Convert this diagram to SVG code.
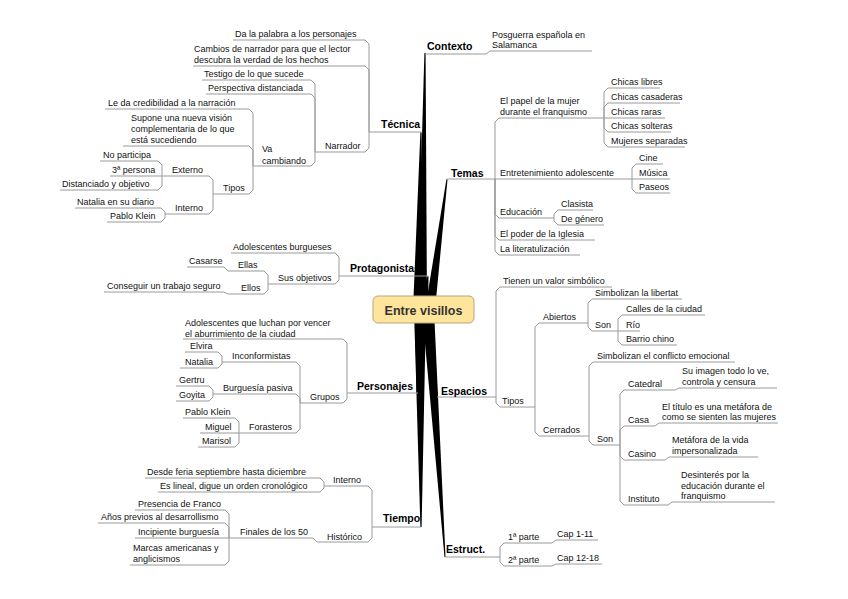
<svg xmlns="http://www.w3.org/2000/svg" width="848" height="599" viewBox="0 0 848 599">
<style>
.t{font-family:"Liberation Sans",Arial,sans-serif;font-size:9px;fill:#111}
.m{font-family:"Liberation Sans",Arial,sans-serif;font-size:10.5px;font-weight:bold;fill:#000}
.c{stroke:#9a9a9a;stroke-width:1;fill:none}
.s{fill:#000}
</style>
<rect width="848" height="599" fill="#fff"/>
<g id="connectors">
<g id="spikes">
<path class="s" d="M417,310 L424.4,53 L425.6,53 L427,310Z"/>
<path class="s" d="M413,310 L420.4,132 L421.6,132.5 L423,310Z"/>
<path class="s" d="M425,310 L446.5,179 L447.5,179.5 L435,310Z"/>
<path class="s" d="M418,310 L427.5,276 L428.5,276.5 L428,310Z"/>
<path class="s" d="M415,310 L416.5,393 L417.5,393 L425,310Z"/>
<path class="s" d="M423,310 L436.5,397 L437.5,397 L433,310Z"/>
<path class="s" d="M414,310 L420.4,527 L421.6,527 L426,310Z"/>
<path class="s" d="M422,310 L444.5,557 L445.5,557 L434,310Z"/>
</g>
<!-- Contexto -->
<path class="c" d="M425,54 H486 L490,51 H592"/>
<!-- Temas -->
<path class="c" d="M447,179 H495"/>
<path class="c" d="M495,179 V122 L499,118 H604"/>
<path class="c" d="M604,118 V92 L608,88 H660"/>
<path class="c" d="M604,118 V107 L608,103 H680"/>
<path class="c" d="M604,118 H665"/>
<path class="c" d="M604,118 V128 L608,132 H671"/>
<path class="c" d="M604,118 V143 L608,147 H685"/>
<path class="c" d="M495,179 H632"/>
<path class="c" d="M632,179 V168 L636,164 H663"/>
<path class="c" d="M632,179 H670"/>
<path class="c" d="M632,179 V189 L636,193 H670"/>
<path class="c" d="M495,179 V214 L499,218 H554"/>
<path class="c" d="M554,218 V214 L558,210 H593"/>
<path class="c" d="M554,218 V221 L558,225 H604"/>
<path class="c" d="M495,179 V236 L499,240 H595"/>
<path class="c" d="M495,179 V251 L499,255 H580"/>
<!-- Espacios -->
<path class="c" d="M437,397 H496"/>
<path class="c" d="M496,397 V291 L500,287 H612"/>
<path class="c" d="M496,397 V403 L500,407 H535"/>
<path class="c" d="M535,407 V327 L539,323 H588"/>
<path class="c" d="M588,323 V303 L592,299 H682"/>
<path class="c" d="M588,323 V327 L592,331 H618"/>
<path class="c" d="M618,331 V319 L622,315 H705"/>
<path class="c" d="M618,331 H640"/>
<path class="c" d="M618,331 V341 L622,345 H677"/>
<path class="c" d="M535,407 V432 L539,436 H589"/>
<path class="c" d="M589,436 V366 L593,362 H735"/>
<path class="c" d="M589,436 V441 L593,445 H620"/>
<path class="c" d="M620,445 V394 L624,390 H675 L679,388 H777"/>
<path class="c" d="M620,445 V430 L624,426 H655 L659,423 H778"/>
<path class="c" d="M620,445 V456 L624,460 H665 L669,457 H758"/>
<path class="c" d="M620,445 V501 L624,505 H668 L672,502 H775"/>
<!-- Estruct -->
<path class="c" d="M445,557 H500"/>
<path class="c" d="M500,557 V547 L504,543 H552 L556,540 H598"/>
<path class="c" d="M500,557 V562 L504,566 H552 L556,564 H602"/>
<!-- Tecnica -->
<path class="c" d="M421,132 H369"/>
<path class="c" d="M369,132 V44 L365,40 H233"/>
<path class="c" d="M369,132 V70 L365,66 H193"/>
<path class="c" d="M369,132 V148 L365,152 H315"/>
<path class="c" d="M315,152 V84 L311,80 H202"/>
<path class="c" d="M315,152 V98 L311,94 H206"/>
<path class="c" d="M315,152 V162 L311,166 H253"/>
<path class="c" d="M253,166 V113 L249,109 H105"/>
<path class="c" d="M253,166 V150 L249,146 H123"/>
<path class="c" d="M253,166 V190 L249,194 H213"/>
<path class="c" d="M213,194 V180 L209,176 H162"/>
<path class="c" d="M162,176 V165 L158,161 H100"/>
<path class="c" d="M162,176 H110"/>
<path class="c" d="M162,176 V186 L158,190 H60"/>
<path class="c" d="M213,194 V210 L209,214 H165"/>
<path class="c" d="M165,214 V212 L161,208 H75"/>
<path class="c" d="M165,214 V218 L161,222 H107"/>
<!-- Protagonistas -->
<path class="c" d="M428,276 H339"/>
<path class="c" d="M339,276 V257 L335,253 H231"/>
<path class="c" d="M339,276 V280 L335,284 H268"/>
<path class="c" d="M268,284 V275 L264,271 H228 L224,267 H187"/>
<path class="c" d="M268,284 V290 L264,294 H228 L224,292 H104"/>
<!-- Personajes -->
<path class="c" d="M418,393 H347"/>
<path class="c" d="M347,393 V343 L343,339 H183"/>
<path class="c" d="M347,393 V399 L343,403 H300"/>
<path class="c" d="M300,403 V366 L296,362 H222"/>
<path class="c" d="M222,362 V356 L218,352 H185"/>
<path class="c" d="M222,362 V364 L218,368 H180"/>
<path class="c" d="M300,403 V398 L296,394 H213"/>
<path class="c" d="M213,394 V390 L209,386 H176"/>
<path class="c" d="M213,394 V397 L209,401 H176"/>
<path class="c" d="M300,403 V429 L296,433 H239"/>
<path class="c" d="M239,433 V422 L235,418 H183"/>
<path class="c" d="M239,433 H200"/>
<path class="c" d="M239,433 V443 L235,447 H198"/>
<!-- Tiempo -->
<path class="c" d="M421,527 H372"/>
<path class="c" d="M372,527 V490 L368,486 H324"/>
<path class="c" d="M324,486 V482 L320,478 H145"/>
<path class="c" d="M324,486 V488 L320,492 H158"/>
<path class="c" d="M372,527 V538 L368,542 H317"/>
<path class="c" d="M317,542 L313,538 H229"/>
<path class="c" d="M229,538 V514 L225,510 H135"/>
<path class="c" d="M229,538 V527 L225,523 H98"/>
<path class="c" d="M229,538 H135"/>
<path class="c" d="M229,538 V561 L225,565 H130"/>
</g>

<g id="root">
<rect x="373" y="296" width="101" height="27" rx="5" fill="#ffe49c" stroke="#b8a77c" stroke-width="1"/>
<text x="423.5" y="314.5" text-anchor="middle" style="font-family:'Liberation Sans',Arial,sans-serif;font-size:12.5px;font-weight:bold;fill:#333">Entre visillos</text>
</g>

<g id="n-contexto"><text class="m" x="427" y="50">Contexto</text></g>
<g id="n-posguerra"><text class="t"><tspan x="492" y="38">Posguerra española en</tspan><tspan x="492" y="48">Salamanca</tspan></text></g>

<g id="n-temas"><text class="m" x="451" y="177">Temas</text></g>
<g id="n-papel"><text class="t"><tspan x="500" y="104">El papel de la mujer</tspan><tspan x="500" y="115">durante el franquismo</tspan></text></g>
<g id="n-libres"><text class="t" x="611" y="85">Chicas libres</text></g>
<g id="n-casaderas"><text class="t" x="611" y="100">Chicas casaderas</text></g>
<g id="n-raras"><text class="t" x="611" y="115">Chicas raras</text></g>
<g id="n-solteras"><text class="t" x="611" y="129">Chicas solteras</text></g>
<g id="n-separadas"><text class="t" x="611" y="144">Mujeres separadas</text></g>
<g id="n-entret"><text class="t" x="500" y="176">Entretenimiento adolescente</text></g>
<g id="n-cine"><text class="t" x="639" y="161">Cine</text></g>
<g id="n-musica"><text class="t" x="639" y="176">Música</text></g>
<g id="n-paseos"><text class="t" x="639" y="190">Paseos</text></g>
<g id="n-educacion"><text class="t" x="500" y="215">Educación</text></g>
<g id="n-clasista"><text class="t" x="561" y="207">Clasista</text></g>
<g id="n-genero"><text class="t" x="561" y="222">De género</text></g>
<g id="n-iglesia"><text class="t" x="500" y="237">El poder de la Iglesia</text></g>
<g id="n-literat"><text class="t" x="500" y="252">La literatulización</text></g>

<g id="n-espacios"><text class="m" x="441" y="395">Espacios</text></g>
<g id="n-simbolico"><text class="t" x="503" y="284">Tienen un valor simbólico</text></g>
<g id="n-tipos-e"><text class="t" x="502" y="404">Tipos</text></g>
<g id="n-abiertos"><text class="t" x="543" y="320">Abiertos</text></g>
<g id="n-libertat"><text class="t" x="595" y="296">Simbolizan la libertat</text></g>
<g id="n-son1"><text class="t" x="595" y="328">Son</text></g>
<g id="n-calles"><text class="t" x="626" y="312">Calles de la ciudad</text></g>
<g id="n-rio"><text class="t" x="626" y="328">Río</text></g>
<g id="n-barrio"><text class="t" x="626" y="342">Barrio chino</text></g>
<g id="n-cerrados"><text class="t" x="543" y="433">Cerrados</text></g>
<g id="n-conflicto"><text class="t" x="597" y="359">Simbolizan el conflicto emocional</text></g>
<g id="n-son2"><text class="t" x="597" y="442">Son</text></g>
<g id="n-catedral"><text class="t" x="628" y="387">Catedral</text></g>
<g id="n-catedral-d"><text class="t"><tspan x="682" y="374">Su imagen todo lo ve,</tspan><tspan x="682" y="385">controla y censura</tspan></text></g>
<g id="n-casa"><text class="t" x="628" y="423">Casa</text></g>
<g id="n-casa-d"><text class="t"><tspan x="662" y="410">El título es una metáfora de</tspan><tspan x="662" y="420">como se sienten las mujeres</tspan></text></g>
<g id="n-casino"><text class="t" x="628" y="457">Casino</text></g>
<g id="n-casino-d"><text class="t"><tspan x="672" y="443">Metáfora de la vida</tspan><tspan x="672" y="454">impersonalizada</tspan></text></g>
<g id="n-instituto"><text class="t" x="628" y="502">Instituto</text></g>
<g id="n-instituto-d"><text class="t"><tspan x="681" y="478">Desinterés por la</tspan><tspan x="681" y="489">educación durante el</tspan><tspan x="681" y="499">franquismo</tspan></text></g>

<g id="n-estruct"><text class="m" x="446" y="553">Estruct.</text></g>
<g id="n-parte1"><text class="t" x="508" y="540">1ª parte</text></g>
<g id="n-cap1"><text class="t" x="557" y="537">Cap 1-11</text></g>
<g id="n-parte2"><text class="t" x="508" y="563">2ª parte</text></g>
<g id="n-cap2"><text class="t" x="557" y="561">Cap 12-18</text></g>

<g id="n-tecnica"><text class="m" x="381" y="128">Técnica</text></g>
<g id="n-palabra"><text class="t" x="235" y="37">Da la palabra a los personajes</text></g>
<g id="n-cambios"><text class="t"><tspan x="194" y="52">Cambios de narrador para que el lector</tspan><tspan x="194" y="63">descubra la verdad de los hechos</tspan></text></g>
<g id="n-narrador"><text class="t" x="325" y="149">Narrador</text></g>
<g id="n-testigo"><text class="t" x="204" y="77">Testigo de lo que sucede</text></g>
<g id="n-perspectiva"><text class="t" x="208" y="91">Perspectiva distanciada</text></g>
<g id="n-va"><text class="t"><tspan x="262" y="152">Va</tspan><tspan x="262" y="164">cambiando</tspan></text></g>
<g id="n-credib"><text class="t" x="108" y="106">Le da credibilidad a la narración</text></g>
<g id="n-supone"><text class="t"><tspan x="131" y="121">Supone una nueva visión</tspan><tspan x="131" y="132">complementaria de lo que</tspan><tspan x="131" y="143">está sucediendo</tspan></text></g>
<g id="n-tipos-t"><text class="t" x="223" y="191">Tipos</text></g>
<g id="n-externo"><text class="t" x="172" y="173">Externo</text></g>
<g id="n-noparticipa"><text class="t" x="103" y="158">No participa</text></g>
<g id="n-3persona"><text class="t" x="112" y="173">3ª persona</text></g>
<g id="n-distanciado"><text class="t" x="62" y="187">Distanciado y objetivo</text></g>
<g id="n-interno-t"><text class="t" x="175" y="211">Interno</text></g>
<g id="n-natalia-d"><text class="t" x="77" y="205">Natalia en su diario</text></g>
<g id="n-pablo-t"><text class="t" x="110" y="219">Pablo Klein</text></g>

<g id="n-protag"><text class="m" x="350" y="272">Protagonistas</text></g>
<g id="n-burgueses"><text class="t" x="233" y="250">Adolescentes burgueses</text></g>
<g id="n-objetivos"><text class="t" x="278" y="281">Sus objetivos</text></g>
<g id="n-ellas"><text class="t" x="238" y="268">Ellas</text></g>
<g id="n-casarse"><text class="t" x="189" y="264">Casarse</text></g>
<g id="n-ellos"><text class="t" x="241" y="291">Ellos</text></g>
<g id="n-trabajo"><text class="t" x="107" y="289">Conseguir un trabajo seguro</text></g>

<g id="n-personajes"><text class="m" x="357" y="390">Personajes</text></g>
<g id="n-luchan"><text class="t"><tspan x="185" y="326">Adolescentes que luchan por vencer</tspan><tspan x="185" y="337">el aburrimiento de la ciudad</tspan></text></g>
<g id="n-grupos"><text class="t" x="310" y="400">Grupos</text></g>
<g id="n-inconf"><text class="t" x="232" y="359">Inconformistas</text></g>
<g id="n-elvira"><text class="t" x="190" y="349">Elvira</text></g>
<g id="n-natalia"><text class="t" x="185" y="365">Natalia</text></g>
<g id="n-burguesia"><text class="t" x="223" y="391">Burguesía pasiva</text></g>
<g id="n-gertru"><text class="t" x="179" y="383">Gertru</text></g>
<g id="n-goyita"><text class="t" x="179" y="398">Goyita</text></g>
<g id="n-forasteros"><text class="t" x="249" y="430">Forasteros</text></g>
<g id="n-pablo-p"><text class="t" x="185" y="415">Pablo Klein</text></g>
<g id="n-miguel"><text class="t" x="205" y="430">Miguel</text></g>
<g id="n-marisol"><text class="t" x="202" y="444">Marisol</text></g>

<g id="n-tiempo"><text class="m" x="383" y="522">Tiempo</text></g>
<g id="n-interno-ti"><text class="t" x="333" y="483">Interno</text></g>
<g id="n-feria"><text class="t" x="147" y="475">Desde feria septiembre hasta diciembre</text></g>
<g id="n-lineal"><text class="t" x="160" y="489">Es lineal, digue un orden cronológico</text></g>
<g id="n-historico"><text class="t" x="327" y="540">Histórico</text></g>
<g id="n-finales"><text class="t" x="240" y="535">Finales de los 50</text></g>
<g id="n-franco"><text class="t" x="138" y="507">Presencia de Franco</text></g>
<g id="n-previos"><text class="t" x="101" y="520">Años previos al desarrollismo</text></g>
<g id="n-incipiente"><text class="t" x="138" y="535">Incipiente burguesía</text></g>
<g id="n-marcas"><text class="t"><tspan x="133" y="551">Marcas americanas y</tspan><tspan x="133" y="562">anglicismos</tspan></text></g>
</svg>
